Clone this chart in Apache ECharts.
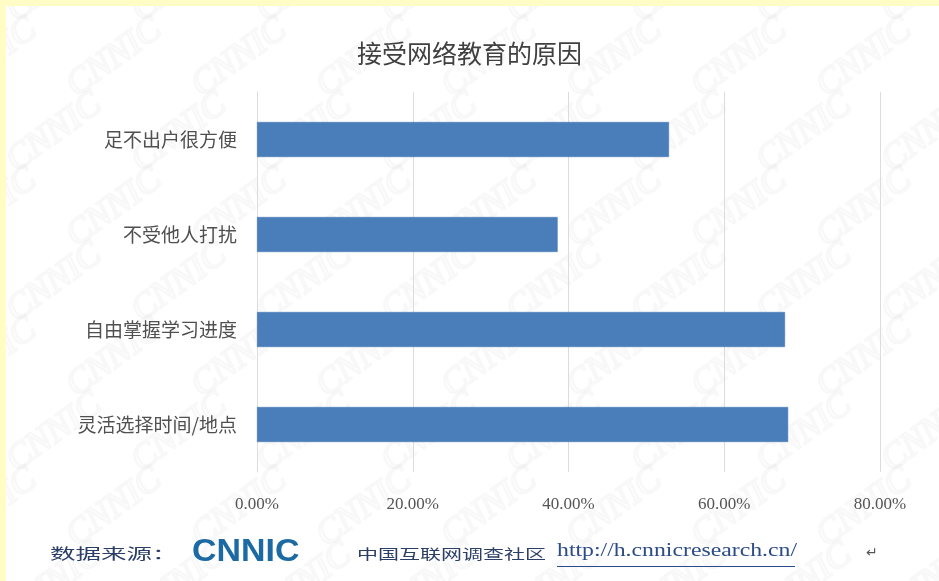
<!DOCTYPE html>
<html>
<head>
<meta charset="utf-8">
<script src="https://cdn.jsdelivr.net/npm/echarts@6/dist/echarts.min.js"></script>
<style>
html,body{margin:0;padding:0;background:#fff;}
#c{width:939px;height:581px;}
</style>
</head>
<body>
<div id="c"></div>
<script>
var categories = ['足不出户很方便', '不受他人打扰', '自由掌握学习进度', '灵活选择时间/地点'];
var values = [52.9, 38.6, 67.8, 68.2];
var xTicks = [0, 20, 40, 60, 80];

var chart = echarts.init(document.getElementById('c'));

var watermarks = [];
for (var r = -1; r < 9; r++) {
  for (var k = -1; k < 10; k++) {
    watermarks.push({
      type: 'text',
      x: k * 125 + (r % 2) * 60,
      y: r * 75,
      rotation: Math.PI / 5,
      silent: true,
      z: 0,
      style: { text: 'CNNIC', fontSize: 36, fontFamily: 'Liberation Serif', fontStyle: 'italic', fill: 'rgba(0,0,0,0)', stroke: 'rgba(120,120,120,0.05)', lineWidth: 2.5 }
    });
  }
}

var option = {
  backgroundColor: '#ffffff',
  animation: false,
  title: {
    text: '接受网络教育的原因',
    left: 'center',
    top: 36,
    textStyle: { fontFamily: 'Noto Sans CJK SC', fontSize: 25, fontWeight: 'normal', color: '#404040' }
  },
  grid: { left: 257, right: 59, top: 92, bottom: 109, containLabel: false },
  xAxis: {
    type: 'value',
    min: 0,
    max: 80,
    interval: 20,
    axisLine: { show: false },
    axisTick: { show: false },
    splitLine: { show: true, lineStyle: { color: '#dcdcdc', width: 1 } },
    axisLabel: {
      margin: 24,
      fontFamily: 'Liberation Serif',
      fontSize: 17,
      color: '#555555',
      formatter: function (v) { return v.toFixed(2) + '%'; }
    }
  },
  yAxis: {
    type: 'category',
    data: categories,
    inverse: true,
    axisLine: { show: true, lineStyle: { color: '#dcdcdc' } },
    axisTick: { show: false },
    axisLabel: {
      margin: 20,
      fontFamily: 'Noto Sans CJK SC',
      fontSize: 19,
      color: '#505050'
    }
  },
  series: [{
    type: 'bar',
    data: values,
    barWidth: 35,
    itemStyle: { color: '#4a7ebb', borderColor: '#3f73ad', borderWidth: 0.5 },
    z: 3
  }],
  graphic: watermarks.concat([
    { type: 'rect', shape: { x: 0, y: 0, width: 939, height: 6 }, style: { fill: '#fffcc6' }, silent: true, z: 10 },
    { type: 'rect', shape: { x: 0, y: 0, width: 6, height: 581 }, style: { fill: '#fffcc6' }, silent: true, z: 10 },
    { type: 'text', x: 50, y: 546, scaleX: 1.7, z: 10, style: { text: '数据来源：', fontFamily: 'Noto Sans CJK SC', fontSize: 15, fill: '#2b3f66' } },
    { type: 'text', x: 192, y: 536, scaleX: 1.06, z: 10, style: { text: 'CNNIC', fontFamily: 'Liberation Sans', fontWeight: 'bold', fontSize: 32, fill: '#1c6aa3' } },
    { type: 'text', x: 357, y: 547, scaleX: 1.5, z: 10, style: { text: '中国互联网调查社区', fontFamily: 'Noto Sans CJK SC', fontSize: 14, fill: '#2b3f66' } },
    { type: 'text', x: 557, y: 542, scaleX: 1.25, z: 10, style: { text: 'http://h.cnnicresearch.cn/', fontFamily: 'Liberation Serif', fontSize: 19, fill: '#2b4c86' } },
    { type: 'rect', z: 10, shape: { x: 557, y: 566, width: 238, height: 1 }, style: { fill: '#2b4c86' } },
    { type: 'text', x: 866, y: 546, z: 10, style: { text: '↵', fontFamily: 'DejaVu Sans', fontSize: 14, fill: '#555555' } }
  ])
};
chart.setOption(option);
</script>
</body>
</html>
